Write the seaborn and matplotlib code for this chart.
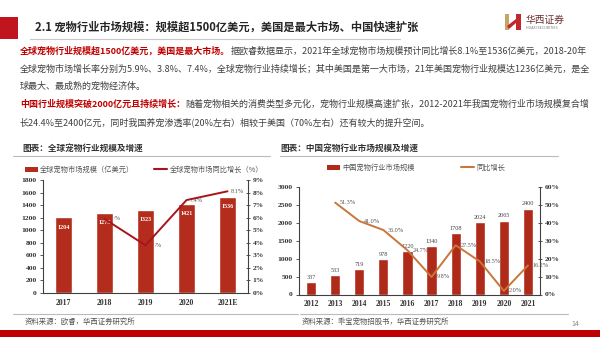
import matplotlib
matplotlib.use("Agg")
import matplotlib.pyplot as plt
import seaborn as sns
import pandas as pd
from matplotlib.patches import Rectangle, Patch, Polygon
from matplotlib.lines import Line2D
from matplotlib.ticker import FuncFormatter

# ---------------- data ----------------
glob_years = ["2017", "2018", "2019", "2020", "2021E"]
glob_size = [1204, 1275, 1323, 1421, 1536]
glob_growth_years = ["2018", "2019", "2020", "2021E"]
glob_growth = [5.9, 3.8, 7.4, 8.1]
glob_size_ticks = [0, 200, 400, 600, 800, 1000, 1200, 1400, 1600, 1800]
glob_pct_ticks = [0, 1, 2, 3, 4, 5, 6, 7, 8, 9]
glob_legend = ["全球宠物市场规模（亿美元）", "全球宠物市场同比增长（%）"]

cn_years = ["2012", "2013", "2014", "2015", "2016", "2017", "2018", "2019", "2020", "2021"]
cn_size = [337, 533, 719, 978, 1220, 1340, 1708, 2024, 2065, 2400]
cn_growth_years = ["2013", "2014", "2015", "2016", "2017", "2018", "2019", "2020", "2021"]
cn_growth = [51.3, 41.0, 36.0, 24.7, 9.8, 27.5, 18.5, 2.0, 16.2]
cn_size_ticks = [0, 500, 1000, 1500, 2000, 2500, 3000]
cn_pct_ticks = [0, 10, 20, 30, 40, 50, 60]
cn_legend = ["中国宠物行业市场规模", "同比增长"]

title = "2.1 宠物行业市场规模：规模超1500亿美元，美国是最大市场、中国快速扩张"
para_lines = [
    [("全球宠物行业规模超1500亿美元，美国是最大市场。", "red"),
     ("据欧睿数据显示，2021年全球宠物市场规模预计同比增长8.1%至1536亿美元，2018-20年", "norm")],
    [("全球宠物市场增长率分别为5.9%、3.8%、7.4%，全球宠物行业持续增长；其中美国是第一大市场，21年美国宠物行业规模达1236亿美元，是全", "norm")],
    [("球最大、最成熟的宠物经济体。", "norm")],
    [("中国行业规模突破2000亿元且持续增长：", "red"),
     ("随着宠物相关的消费类型多元化，宠物行业规模高速扩张，2012-2021年我国宠物行业市场规模复合增", "norm")],
    [("长24.4%至2400亿元，同时我国养宠渗透率(20%左右）相较于美国（70%左右）还有较大的提升空间。", "norm")],
]
caption_left = "图表：全球宠物行业规模及增速"
caption_right = "图表：中国宠物行业市场规模及增速"
source_left = "资料来源：欧睿，华西证券研究所"
source_right = "资料来源：乖宝宠物招股书，华西证券研究所"

# ---------------- style ----------------
sns.set_theme(style="white")
plt.rcParams["font.family"] = ["Noto Sans CJK SC", "DejaVu Sans"]
SERIF = "Liberation Serif"
RED = "#C00000"
TXT = "#404040"

W, H = 600, 337
fig = plt.figure(figsize=(6, 3.37), dpi=100)
bg = fig.add_axes([0, 0, 1, 1], zorder=0)
bg.set_xlim(0, W)
bg.set_ylim(H, 0)
bg.set_axis_off()


def frac(x0, y0, x1, y1):
    return [x0 / W, 1 - y1 / H, (x1 - x0) / W, (y1 - y0) / H]


# ---------------- header ----------------
bg.add_patch(Rectangle((0, 17), 18, 22, color="#C0141E", lw=0))
bg.text(35, 27.5, title, fontsize=8.1, fontweight="bold", color="#262626", va="center", ha="left")
bg.plot([30, 400], [38.5, 38.5], color="#C8C8C8", lw=0.8)

# logo
LX = 505
bg.add_patch(Rectangle((LX, 14), 4, 16, color="#C9A46A", lw=0))
bg.add_patch(Rectangle((LX + 11, 14), 4.5, 16, color="#C0282D", lw=0))
bg.add_patch(Polygon([(LX + 2, 26), (LX + 11, 19), (LX + 11, 23), (LX + 4, 29)], closed=True,
                     color="#C0282D", lw=0))
bg.text(LX + 21, 19.5, "华西证券", fontsize=7, color="#6B2B2B", va="center", ha="left")
bg.text(LX + 21.5, 28, "HUAXI SECURITIES", fontsize=2.6, color="#777777", va="center", ha="left")


# ---------------- paragraph (rainbow text) ----------------
def draw_line(x, y, segs, fs):
    arts = []
    prev = None
    for s, kind in segs:
        kw = dict(fontsize=fs, color=RED if kind == "red" else TXT,
                  fontweight="bold" if kind == "red" else "normal", va="center", ha="left")
        if prev is None:
            t = bg.text(x, y, s, **kw)
        else:
            t = bg.annotate(s, xy=(1, 0.5), xycoords=prev, **kw)
        arts.append(t)
        prev = t
    return arts


line_y = [51, 69, 86.5, 104.5, 122]
x0, x_right = 20, 590
fs0 = 6.6
tmp = draw_line(x0, line_y[1], para_lines[1], fs0)
fig.canvas.draw()
r = fig.canvas.get_renderer()
right_px = tmp[-1].get_window_extent(r).x1
width_px = right_px - x0 * fig.dpi * 6 / W
fs = fs0 * (x_right - x0) / width_px
for t in tmp:
    t.remove()
for yy, segs in zip(line_y, para_lines):
    draw_line(x0, yy, segs, fs)

# captions and separators
bg.text(22, 148, caption_left, fontsize=6.2, fontweight="bold", color="#333333", va="center", ha="left")
bg.text(280, 148, caption_right, fontsize=6.2, fontweight="bold", color="#333333", va="center", ha="left")
bg.plot([13, 270], [156, 156], color="#BBBBBB", lw=0.8)
bg.plot([280, 558], [156, 156], color="#BBBBBB", lw=0.8)
bg.plot([13, 298], [313.5, 313.5], color="#BBBBBB", lw=0.8)
bg.plot([300, 568], [313.5, 313.5], color="#BBBBBB", lw=0.8)
bg.text(25, 322, source_left, fontsize=5.3, color="#555555", va="center", ha="left")
bg.text(302, 322, source_right, fontsize=5.3, color="#555555", va="center", ha="left")
bg.text(571, 324, "14", fontsize=5, color="#888888", va="center", ha="left")
bg.add_patch(Rectangle((0, 330), W, 8, color="#C00000", lw=0))


# ---------------- charts ----------------
def chart(rect, years, size, gyears, growth, yticks, pticks, bar_color, line_color,
          bar_width, inside, gdx, legend_labels, legend_xy, colspacing):
    ax = fig.add_axes(frac(*rect))
    ax.set_zorder(2)
    ax.set_facecolor("none")
    df = pd.DataFrame({"year": years, "size": size})
    sns.barplot(data=df, x="year", y="size", order=years, color=bar_color, width=bar_width,
                saturation=1, ax=ax, zorder=2)
    ax2 = ax.twinx()
    ax2.set_zorder(3)
    gdf = pd.DataFrame({"year": gyears, "growth": growth})
    sns.pointplot(data=gdf, x="year", y="growth", order=years, color=line_color, markers="",
                  errorbar=None, ax=ax2, linewidth=1.4)
    n = len(years)
    ax.set_xlim(-0.5, n - 0.5)
    ax.set_ylim(0, max(yticks))
    ax.set_yticks(yticks)
    ax2.set_ylim(0, max(pticks))
    ax2.set_yticks(pticks)
    ax2.yaxis.set_major_formatter(FuncFormatter(lambda v, p: f"{v:.0f}%"))
    for a in (ax, ax2):
        a.set_xlabel("")
        a.set_ylabel("")
        a.grid(False)
        for s in a.spines.values():
            s.set_visible(False)
    ax.spines["left"].set_visible(True)
    ax.spines["bottom"].set_visible(True)
    ax2.spines["right"].set_visible(True)
    for s in (ax.spines["left"], ax.spines["bottom"], ax2.spines["right"]):
        s.set_color("#404040")
        s.set_linewidth(0.8)
    ax.set_xticks([i + 0.5 for i in range(n - 1)], minor=True)
    ax.tick_params(axis="x", which="major", length=0, pad=4, labelsize=5.6, labelcolor="#333333")
    ax.tick_params(axis="x", which="minor", length=2.5, width=0.6, color="#404040", direction="out")
    ax.tick_params(axis="y", length=2.5, width=0.6, color="#404040", direction="out", pad=2,
                   labelsize=5.4, labelcolor="#333333", left=True)
    ax2.tick_params(axis="y", length=2.5, width=0.6, color="#404040", direction="inout", pad=2,
                    labelsize=5.4, labelcolor="#333333", right=True)
    for lab in ax.get_xticklabels() + ax.get_yticklabels() + ax2.get_yticklabels():
        lab.set_fontfamily(SERIF)
        lab.set_fontweight("bold")
    # bar labels
    if inside:
        ax.bar_label(ax.containers[0], labels=[str(v) for v in size], padding=-9, color="white",
                     fontsize=4.4, fontweight="bold", family=SERIF)
    else:
        ax.bar_label(ax.containers[0], labels=[str(v) for v in size], padding=1.5, color="#444444",
                     fontsize=4.4, family=SERIF)
    # growth labels
    host = ax if inside else ax2
    for yr, g in zip(gyears, growth):
        i = years.index(yr)
        host.text(i + gdx, g, f"{g:.1f}%", transform=ax2.transData, fontsize=4.4, family=SERIF,
                  color="#555555", va="center", ha="left", zorder=1)
    handles = [Patch(color=bar_color, lw=0), Line2D([], [], color=line_color, lw=1.5)]
    fig.legend(handles, legend_labels, loc="center", ncol=2, frameon=False,
               bbox_to_anchor=(legend_xy[0] / W, 1 - legend_xy[1] / H), fontsize=5.2,
               labelcolor="#555555", handlelength=1.8, handleheight=0.8, handletextpad=0.3,
               columnspacing=colspacing, borderpad=0)
    return ax, ax2


chart((43, 180, 248, 293), glob_years, glob_size, glob_growth_years, glob_growth,
      glob_size_ticks, glob_pct_ticks, "#B32C1C", "#A8141C", 0.42, True, 0.08,
      glob_legend, (144, 170), 2.8)
chart((299, 187, 540, 294.5), cn_years, cn_size, cn_growth_years, cn_growth,
      cn_size_ticks, cn_pct_ticks, "#B02A1A", "#C8763A", 0.42, False, 0.2,
      cn_legend, (416, 168), 6.4)

fig.savefig("out.png", dpi=100)
